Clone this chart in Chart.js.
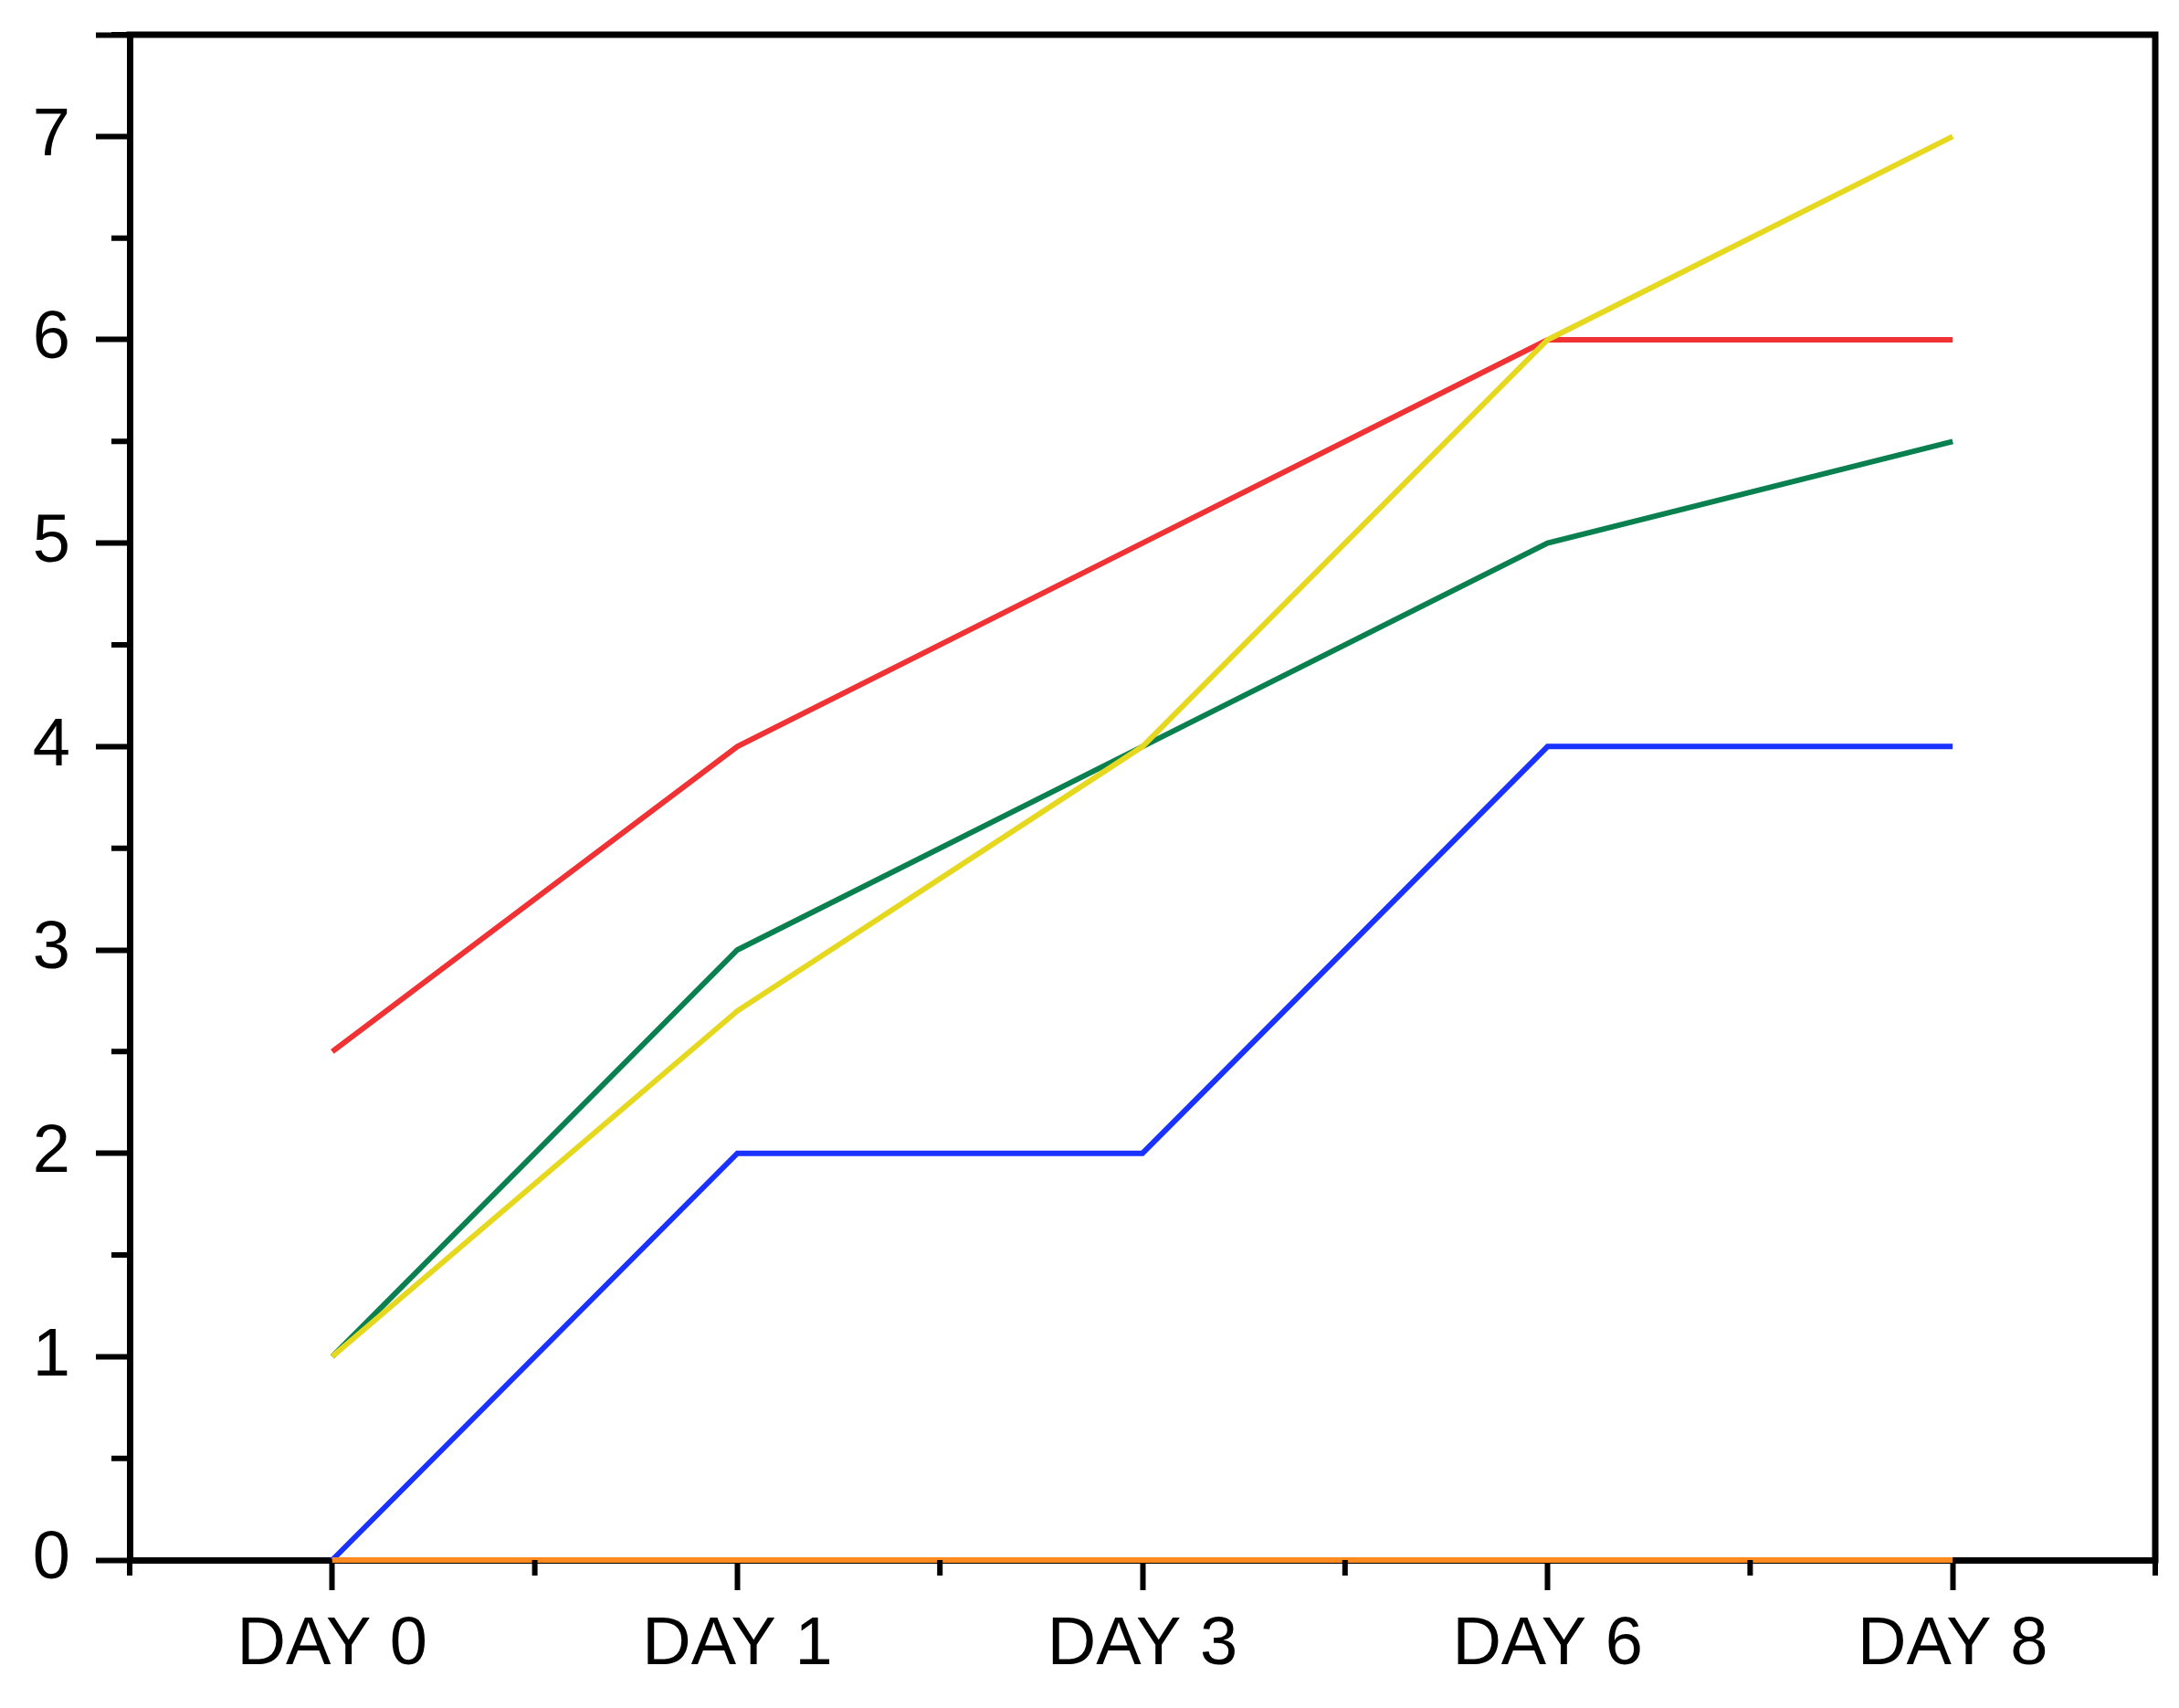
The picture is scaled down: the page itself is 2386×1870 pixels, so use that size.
<!DOCTYPE html>
<html>
<head>
<meta charset="utf-8">
<script src="https://cdn.jsdelivr.net/npm/chart.js@4/dist/chart.umd.min.js"></script>
<style>
  html, body { margin: 0; padding: 0; background: #fff; }
  #chart { display: block; }
</style>
</head>
<body>
<canvas id="chart" width="2386" height="1870"></canvas>
<script>
// data
const days = ['DAY 0', 'DAY 1', 'DAY 3', 'DAY 6', 'DAY 8'];
const redSeries = [2.5, 4, 5, 6, 6];
const greenSeries = [1, 3, 4, 5, 5.5];
const yellowSeries = [1, 2.7, 4, 6, 7];
const blueSeries = [0, 2, 2, 4, 4];
const orangeSeries = [0, 0, 0, 0, 0];
const yMax = 7.5;

const FONT = { family: '"Liberation Sans", Arial, sans-serif', size: 74 };
const AXIS_W = 7;

// frame (top/right) and the short minor ticks Chart.js can't size separately
const framePlugin = {
    id: 'frame',
    afterDraw(chart) {
        const { ctx, chartArea: a, scales } = chart;
        ctx.save();
        ctx.strokeStyle = '#000';
        ctx.lineWidth = AXIS_W;
        ctx.lineCap = 'square';
        ctx.beginPath();
        ctx.moveTo(a.left, a.top);
        ctx.lineTo(a.right, a.top);
        ctx.lineTo(a.right, a.bottom);
        ctx.stroke();

        ctx.lineCap = 'butt';
        ctx.lineWidth = 6;
        ctx.beginPath();
        // y minor ticks at half steps
        for (let v = 0.5; v <= yMax; v += 1) {
            const y = scales.y.getPixelForValue(v);
            ctx.moveTo(a.left - 20, y);
            ctx.lineTo(a.left, y);
        }
        // x minor ticks between categories and at the edges
        for (let i = -0.5; i <= days.length - 0.5; i += 1) {
            const x = scales.x.getPixelForValue(i);
            ctx.moveTo(x, a.bottom);
            ctx.lineTo(x, a.bottom + 17);
        }
        ctx.stroke();
        ctx.restore();
    }
};

const line = (data, color) => ({
    data,
    borderColor: color,
    borderWidth: 6,
    pointRadius: 0,
    tension: 0,
    fill: false,
    clip: false
});

new Chart(document.getElementById('chart'), {
    type: 'line',
    data: {
        labels: days,
        datasets: [
            line(orangeSeries, '#ff8a1f'),
            line(blueSeries, '#1a32ff'),
            line(yellowSeries, '#e6d81e'),
            line(greenSeries, '#0a8050'),
            line(redSeries, '#f03234')
        ]
    },
    options: {
        responsive: false,
        animation: false,
        events: [],
        layout: { padding: { top: 38, right: 26, left: 0, bottom: 0 } },
        plugins: { legend: { display: false }, tooltip: { enabled: false } },
        scales: {
            x: {
                offset: true,
                grid: { display: true, drawOnChartArea: false, offset: false, tickLength: 33, tickWidth: 6, tickColor: '#000' },
                border: { display: true, color: '#000', width: AXIS_W },
                ticks: { color: '#000', font: FONT, padding: 16, maxRotation: 0 },
                afterFit(scale) { scale.height = 162; scale.paddingLeft = 0; scale.paddingRight = 0; }
            },
            y: {
                min: 0,
                max: yMax,
                grid: { display: true, drawOnChartArea: false, tickLength: 37, tickWidth: 6, tickColor: '#000' },
                border: { display: true, color: '#000', width: AXIS_W },
                ticks: { color: '#000', font: FONT, padding: 28, stepSize: 1, callback: v => Number.isInteger(v) ? v : '' },
                afterFit(scale) { scale.width = 142; scale.paddingTop = 0; scale.paddingBottom = 0; }
            }
        }
    },
    plugins: [framePlugin]
});
</script>
</body>
</html>
